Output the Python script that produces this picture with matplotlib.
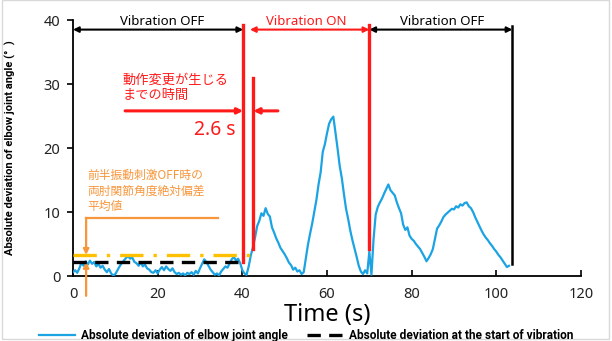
import numpy as np
import matplotlib
matplotlib.use("Agg")
import matplotlib.pyplot as plt
from matplotlib.patches import Rectangle

plt.rcParams['font.family'] = ['Noto Sans', 'Noto Sans CJK JP', 'DejaVu Sans']

# ---------------- data ----------------
t_step = 0.5
deviation = [
    0.6, 0.9, 0.5, 1.2, 2.1, 1.6, 2.3, 1.8, 2.4, 1.9, 2.2, 1.5, 1.9, 1.3, 1.6, 1.0, 0.6, 1.1, 0.4, 0.1, 0.3,
    0.9, 1.5, 2.0, 2.4, 2.8, 3.1, 2.7, 2.9, 2.2, 2.0, 1.6, 2.1, 1.5, 1.8, 1.2, 1.0, 0.6, 0.5, 0.9, 0.4,
    1.0, 1.4, 0.9, 1.5, 1.1, 0.8, 1.2, 0.6, 0.3, 0.5, 0.2, 0.4, 0.1, 0.5, 0.3, 0.6, 0.2, 0.8, 0.4, 1.2,
    1.9, 2.6, 2.2, 1.6, 1.0, 0.6, 0.2, 0.4, 0.1, 0.7, 1.1, 1.5, 1.3, 2.0, 2.6, 3.0, 2.4, 2.7, 2.0, 0.9,
    0.4, 0.2, 1.5, 3.2, 4.5, 6.0, 7.8, 8.6, 9.8, 9.4, 10.6, 9.7, 9.3, 7.6, 6.8, 5.9, 5.2, 4.4, 3.9, 3.4,
    2.8, 2.1, 1.7, 1.0, 1.3, 0.7, 0.9, 0.3, 0.6, 2.8, 4.9, 6.6, 8.2, 10.1, 11.9, 14.3, 16.2, 19.4, 20.6, 22.3,
    23.8, 24.5, 24.9, 22.4, 19.9, 17.2, 15.3, 12.8, 10.5, 8.9, 7.1, 5.6, 4.3, 3.0, 1.6, 0.7, 0.3, 0.9, 0.4, 3.8,
    0.2, 5.8, 9.6, 10.8, 11.5, 12.1, 12.9, 13.6, 14.3, 13.4, 13.0, 12.6, 11.5, 10.6, 9.8, 8.0, 7.2, 7.6, 6.3, 5.8,
    5.5, 5.0, 4.6, 4.2, 3.6, 3.0, 2.3, 2.8, 3.4, 4.2, 5.8, 7.4, 7.9, 8.5, 9.2, 9.6, 9.9, 10.2, 10.5, 10.4,
    10.9, 10.7, 11.2, 11.0, 11.4, 11.5, 10.9, 10.6, 10.0, 9.2, 8.5, 7.8, 7.1, 6.5, 6.0, 5.6, 5.1, 4.7, 4.2, 3.8,
    3.3, 2.9, 2.4, 1.9, 1.4, 1.6,
]
time = np.arange(len(deviation)) * t_step

start_level = 2.2          # absolute deviation at start of vibration
mean_off_level = 3.3       # mean deviation in first OFF phase
vib_on_start = 40.2
motion_change = 42.6
vib_on_end = 70.0
trial_end = 103.8

x_ticks = [0, 20, 40, 60, 80, 100, 120]
y_ticks = [0, 10, 20, 30, 40]

legend_labels = ["Absolute deviation of elbow joint angle",
                 "Absolute deviation at the start of vibration"]

# ---------------- figure ----------------
W, H = 612, 341
fig = plt.figure(figsize=(W / 100, H / 100), dpi=100)
fig.patches.append(Rectangle((2 / W, 2 / H), 1 - 5 / W, 1 - 2 / H, transform=fig.transFigure,
                             fill=False, edgecolor='#d9d9d9', lw=1.0))
ax = fig.add_axes([73 / W, 1 - 276 / H, 508 / W, 256 / H])

blue = '#1ba3e3'
red = '#ff1a1a'
orange = '#f7963b'
yellow = '#ffc000'

line_dev, = ax.plot(time, deviation, color=blue, lw=1.6, zorder=3, label=legend_labels[0])
line_start, = ax.plot([0, vib_on_start], [start_level, start_level], color='black', lw=2.4,
                      dashes=(4, 2.5), zorder=4, label=legend_labels[1])
ax.plot([0, 41.8], [mean_off_level, mean_off_level], color=yellow, lw=2.4,
        dashes=(7, 3, 1, 3), zorder=4)

ax.set_xlim(0, 120)
ax.set_ylim(0, 40)
ax.set_xticks(x_ticks)
ax.set_yticks(y_ticks)
for s in ['top', 'right']:
    ax.spines[s].set_visible(False)
for s in ['left', 'bottom']:
    ax.spines[s].set_linewidth(1.3)
ax.tick_params(axis='x', direction='in', length=4, width=1.2, pad=8, labelsize=10.5, labelcolor='#222222')
ax.tick_params(axis='y', direction='out', length=4, width=1.2, pad=5, labelsize=10.5, labelcolor='#222222')

ax.set_xlabel('Time (s)', fontsize=17)
ax.xaxis.set_label_coords(0.5, -0.105)
ax.set_ylabel('Absolute deviation of elbow joint angle (°  )', fontsize=8, fontweight='bold',
              family=['Roboto', 'DejaVu Sans'])
ax.yaxis.set_label_coords(-0.112, 0.5)

# vertical markers
ax.plot([vib_on_start] * 2, [39.2, start_level], color=red, lw=2.4, clip_on=False, zorder=5)
ax.plot([motion_change] * 2, [31.0, 4.2], color=red, lw=2.4, clip_on=False, zorder=5)
ax.plot([vib_on_end] * 2, [39.2, 4.2], color=red, lw=2.4, clip_on=False, zorder=5)
ax.plot([trial_end] * 2, [39.0, 1.9], color='black', lw=1.8, clip_on=False, zorder=5)

arr_y = 38.5
def darrow(x0, x1, y, c, style='<|-|>', lw=1.5):
    ax.annotate('', xy=(x1, y), xytext=(x0, y),
                arrowprops=dict(arrowstyle=style, color=c, lw=lw, mutation_scale=8,
                                shrinkA=0, shrinkB=0),
                annotation_clip=False)

darrow(0, vib_on_start, arr_y, 'black')
darrow(41.8, vib_on_end, arr_y, red)
darrow(vib_on_end, trial_end, arr_y, 'black')

ax.text(21, 39.7, 'Vibration OFF', ha='center', va='center', fontsize=9.5, color='black', clip_on=False)
ax.text(55, 39.7, 'Vibration ON', ha='center', va='center', fontsize=9.5, color=red, clip_on=False)
ax.text(87.2, 39.7, 'Vibration OFF', ha='center', va='center', fontsize=9.5, color='black', clip_on=False)

# red annotation
ax.text(11.8, 29.4, '動作変更が生じる\nまでの時間', ha='left', va='center', fontsize=9.5, color=red,
        family=['Noto Sans CJK JP'], linespacing=1.2)
darrow(12.3, vib_on_start, 25.8, red, style='-|>', lw=2.2)
darrow(48.4, motion_change, 25.8, red, style='-|>', lw=2.2)
ax.text(38.3, 22.8, '2.6 s', ha='right', va='center', fontsize=14, color=red)

# orange annotation
ax.text(3.5, 13.3, '前半振動刺激OFF時の\n両肘関節角度絶対偏差\n平均値', ha='left', va='center',
        fontsize=8.5, color=orange, family=['Noto Sans CJK JP'], linespacing=1.25)
ax.plot([34.3, 3.1], [9.1, 9.1], color=orange, lw=1.6, zorder=5)
ax.annotate('', xy=(3.1, mean_off_level), xytext=(3.1, 9.1),
            arrowprops=dict(arrowstyle='-|>', color=orange, lw=1.6, mutation_scale=8, shrinkA=0, shrinkB=0),
            annotation_clip=False)
ax.annotate('', xy=(3.1, start_level), xytext=(3.1, -3.1),
            arrowprops=dict(arrowstyle='-|>', color=orange, lw=1.6, mutation_scale=8, shrinkA=0, shrinkB=0),
            annotation_clip=False)

fig.legend([line_dev, line_start], legend_labels, ncol=2, loc='center',
           bbox_to_anchor=(0.5, 1 - 335.5 / H), frameon=False,
           prop={'size': 8.6, 'weight': 'bold', 'family': ['Roboto', 'DejaVu Sans']},
           handlelength=3.0, columnspacing=1.6, handletextpad=0.5, borderpad=0)

fig.savefig('out.png', dpi=100)
